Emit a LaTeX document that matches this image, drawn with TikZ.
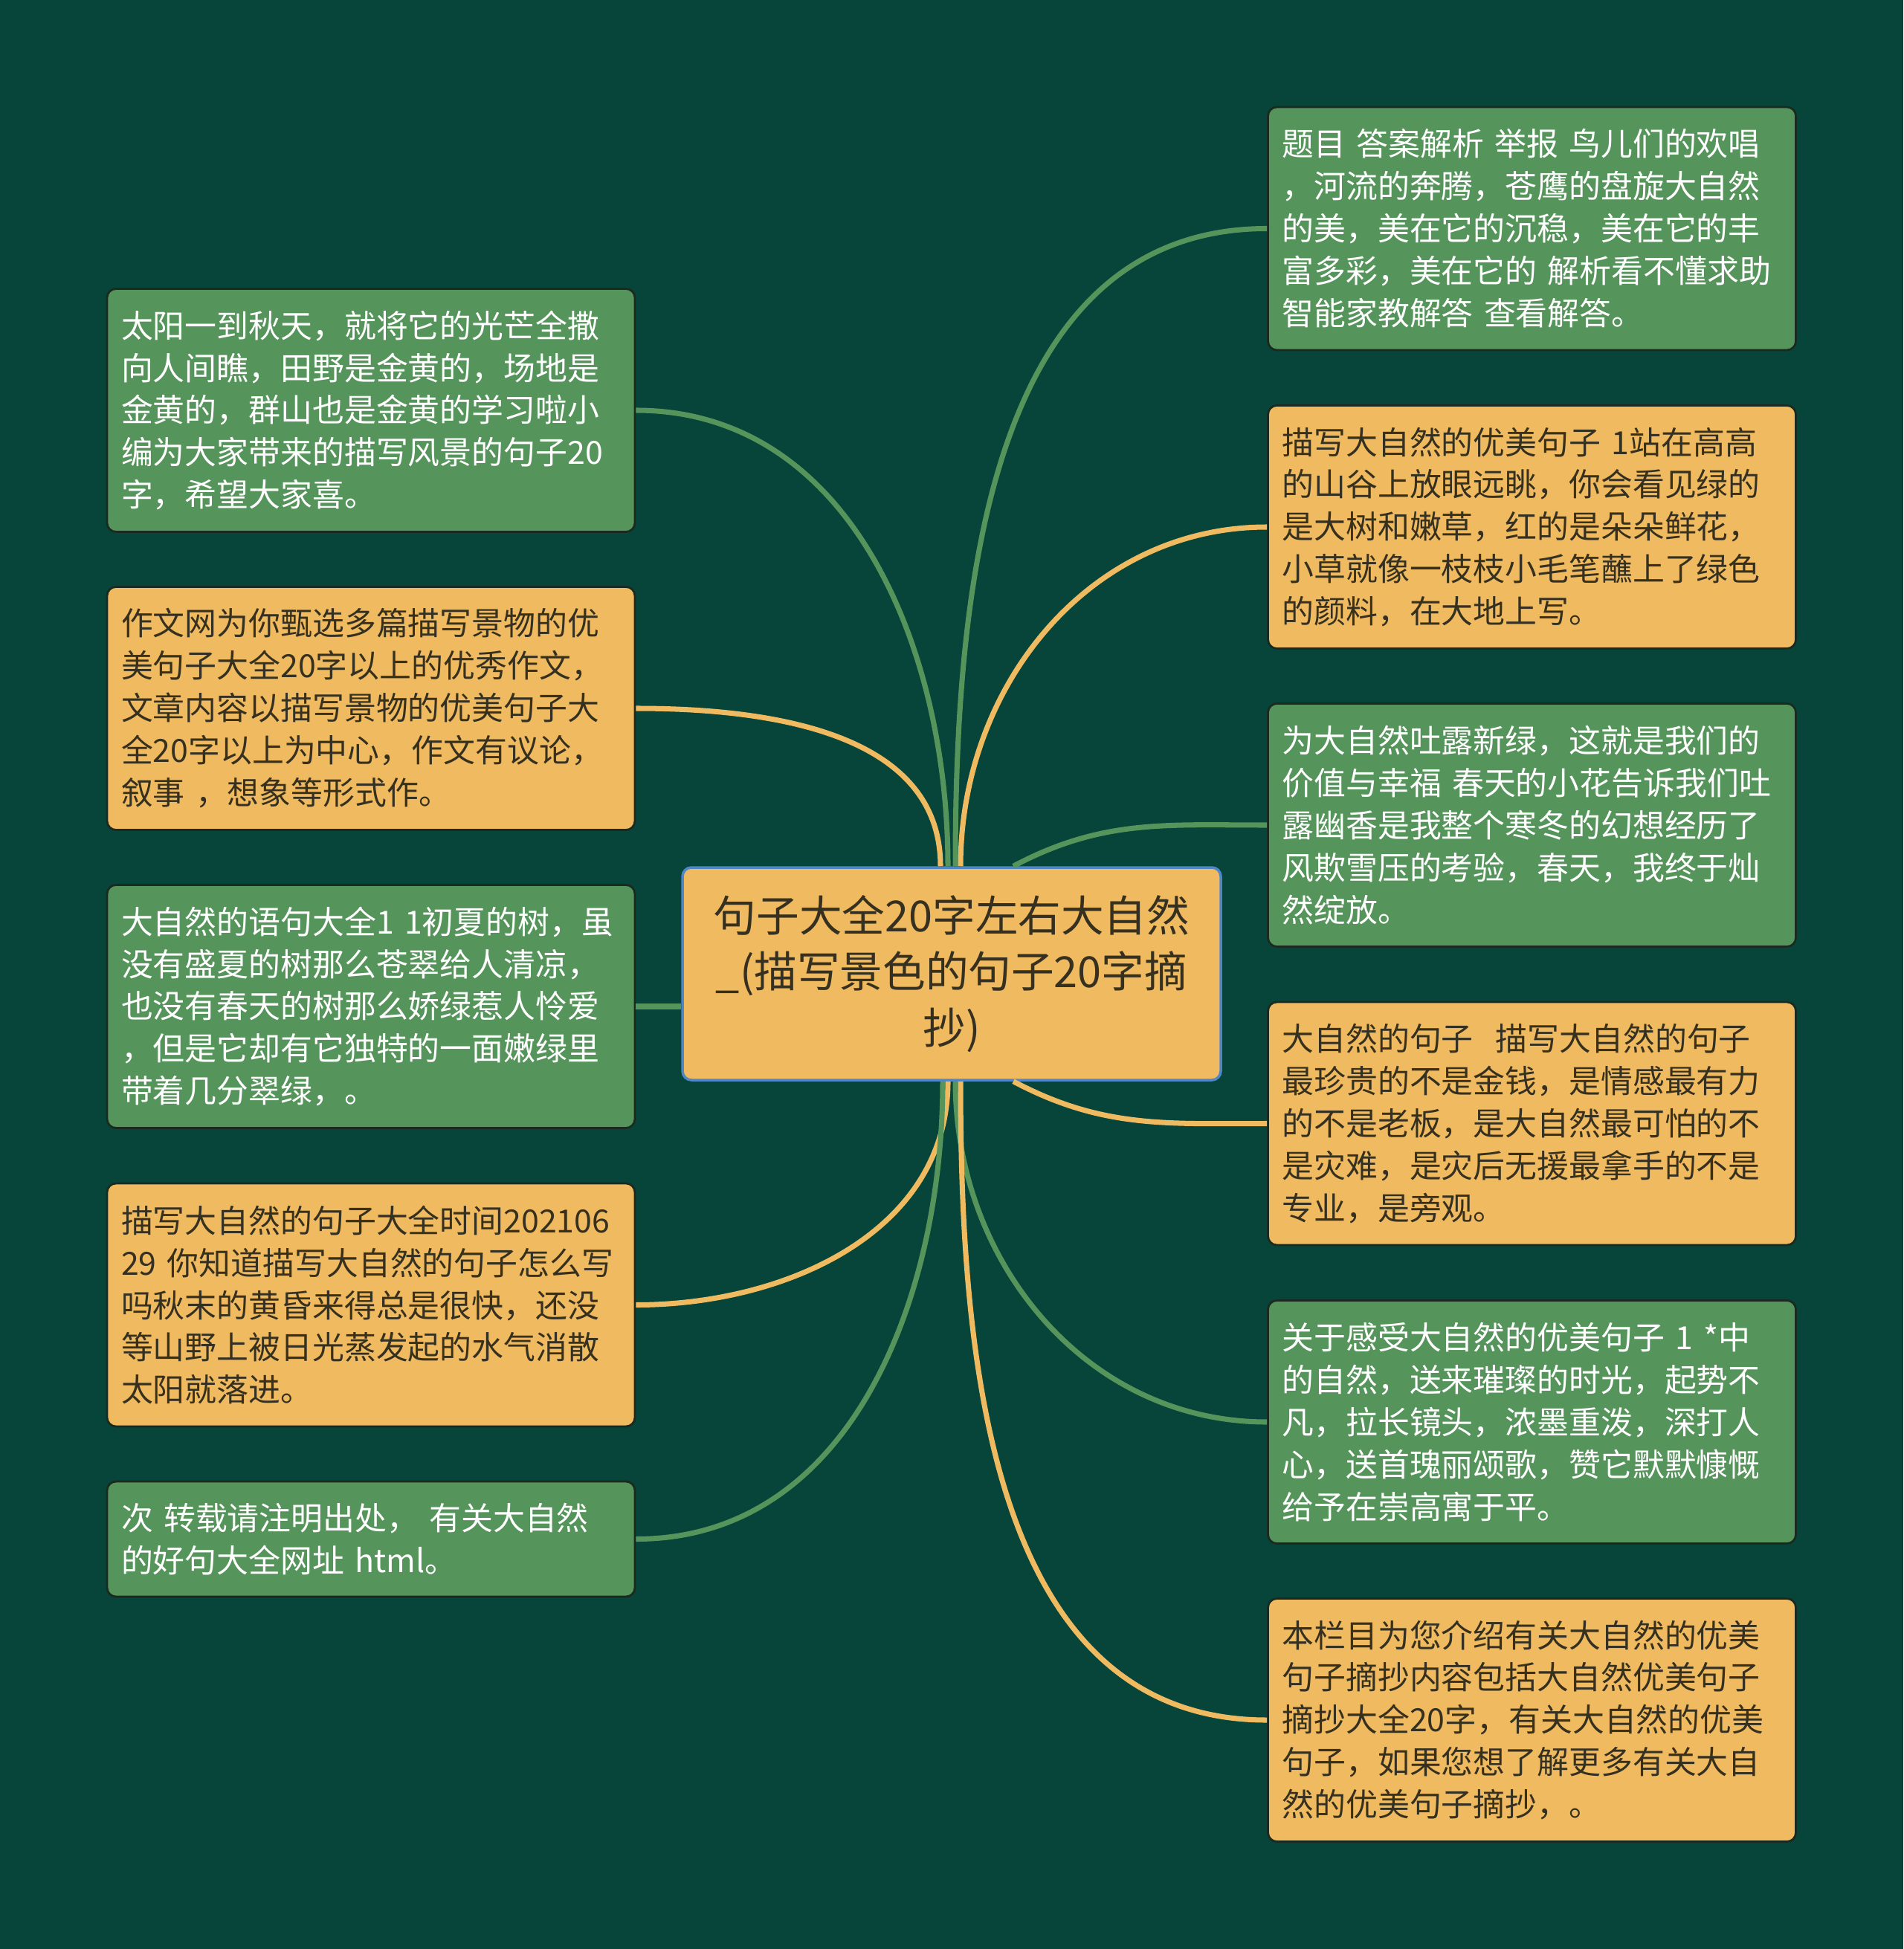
\documentclass[tikz,border=0pt]{standalone}
\usepackage{fontspec}
\setmainfont{Noto Sans CJK SC}
\usetikzlibrary{positioning}
\definecolor{bgdark}{HTML}{07453A}
\definecolor{leafgreen}{HTML}{55945A}
\definecolor{leafyellow}{HTML}{F0BA60}
\definecolor{inkdark}{HTML}{35301F}
\definecolor{rootedge}{HTML}{4E86C6}
\definecolor{boxedge}{HTML}{1B2A20}

\begin{document}
\begin{tikzpicture}[
  leaf/.style={rectangle,rounded corners=0.12cm,draw=boxedge,line width=0.8pt,text width=6.72cm,inner xsep=0.19cm,inner ysep=0cm,minimum height=3.27cm,align=left,font=\fontsize{12.2}{16.2}\selectfont},
  greenleaf/.style={leaf,fill=leafgreen,text=white},
  yellowleaf/.style={leaf,fill=leafyellow,text=inkdark},
  glink/.style={leafgreen,line width=2pt},
  ylink/.style={leafyellow,line width=2pt}]
\fill[bgdark] (0,0) rectangle (25.6,-26.22);

\node[rectangle,rounded corners=0.12cm,draw=rootedge,line width=1pt,fill=leafyellow,text=inkdark,minimum width=7.24cm,minimum height=2.86cm,text width=6.9cm,align=center,font=\fontsize{16.4}{21.4}\selectfont] (root) at (12.80,-13.10) {句子大全20字左右大自然\\\_(描写景色的句子20字摘\\抄)};

\node[greenleaf] (R1) at (20.605,-3.075) {题目 答案解析 举报 鸟儿们的欢唱\\，河流的奔腾，苍鹰的盘旋大自然\\的美，美在它的沉稳，美在它的丰\\富多彩，美在它的 解析看不懂求助\\智能家教解答 查看解答。};
\node[yellowleaf] (R2) at (20.605,-7.09) {描写大自然的优美句子 1站在高高\\的山谷上放眼远眺，你会看见绿的\\是大树和嫩草，红的是朵朵鲜花，\\小草就像一枝枝小毛笔蘸上了绿色\\的颜料，在大地上写。};
\node[greenleaf] (R3) at (20.605,-11.10) {为大自然吐露新绿，这就是我们的\\价值与幸福 春天的小花告诉我们吐\\露幽香是我整个寒冬的幻想经历了\\风欺雪压的考验，春天，我终于灿\\然绽放。};
\node[yellowleaf] (R4) at (20.605,-15.115) {大自然的句子\hspace{0.7em}描写大自然的句子\\最珍贵的不是金钱，是情感最有力\\的不是老板，是大自然最可怕的不\\是灾难，是灾后无援最拿手的不是\\专业，是旁观。};
\node[greenleaf] (R5) at (20.605,-19.13) {关于感受大自然的优美句子 1 *中\\的自然，送来璀璨的时光，起势不\\凡，拉长镜头，浓墨重泼，深打人\\心，送首瑰丽颂歌，赞它默默慷慨\\给予在崇高寓于平。};
\node[yellowleaf] (R6) at (20.605,-23.14) {本栏目为您介绍有关大自然的优美\\句子摘抄内容包括大自然优美句子\\摘抄大全20字，有关大自然的优美\\句子，如果您想了解更多有关大自\\然的优美句子摘抄，。};

\node[greenleaf] (L1) at (4.99,-5.52) {太阳一到秋天，就将它的光芒全撒\\向人间瞧，田野是金黄的，场地是\\金黄的，群山也是金黄的学习啦小\\编为大家带来的描写风景的句子20\\字，希望大家喜。};
\node[yellowleaf] (L2) at (4.99,-9.53) {作文网为你甄选多篇描写景物的优\\美句子大全20字以上的优秀作文，\\文章内容以描写景物的优美句子大\\全20字以上为中心，作文有议论，\\叙事 ，想象等形式作。};
\node[greenleaf] (L3) at (4.99,-13.54) {大自然的语句大全1 1初夏的树，虽\\没有盛夏的树那么苍翠给人清凉，\\也没有春天的树那么娇绿惹人怜爱\\，但是它却有它独特的一面嫩绿里\\带着几分翠绿，。};
\node[yellowleaf] (L4) at (4.99,-17.555) {描写大自然的句子大全时间202106\\29 你知道描写大自然的句子怎么写\\吗秋末的黄昏来得总是很快，还没\\等山野上被日光蒸发起的水气消散\\太阳就落进。};
\node[greenleaf,minimum height=1.55cm] (L5) at (4.99,-20.705) {次 转载请注明出处， 有关大自然\\的好句大全网址 html。};

\draw[ylink] ([xshift=-0.15cm]root.north) to[out=90,in=0] (L2.east);
\draw[glink] ([xshift=-0.05cm]root.north) to[out=90,in=0] (L1.east);
\draw[glink] ([xshift=0.05cm]root.north) to[out=90,in=180] (R1.west);
\draw[ylink] ([xshift=0.12cm]root.north) to[out=90,in=180] (R2.west);
\draw[glink] ([xshift=0.83cm]root.north) to[out=28,in=180] (R3.west);
\draw[glink] (L3.east) -- (L3.east -| root.west);
\draw[ylink] ([xshift=0.83cm]root.south) to[out=-28,in=180] (R4.west);
\draw[glink] ([xshift=0.05cm]root.south) to[out=-90,in=180] (R5.west);
\draw[ylink] ([xshift=0.12cm]root.south) to[out=-90,in=180] (R6.west);
\draw[ylink] ([xshift=-0.05cm]root.south) to[out=-90,in=0] (L4.east);
\draw[glink] ([xshift=-0.12cm]root.south) to[out=-90,in=0] (L5.east);
\end{tikzpicture}
\end{document}
